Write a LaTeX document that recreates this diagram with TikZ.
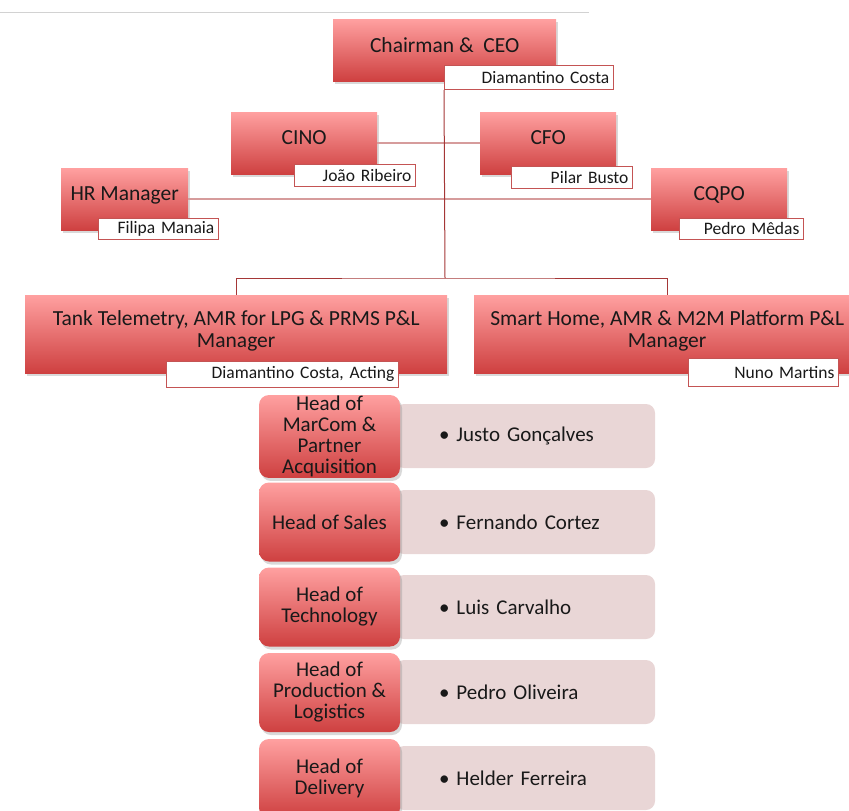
\documentclass[tikz,border=0pt]{standalone}
\usepackage{fontspec}
\setmainfont{Carlito}
\usetikzlibrary{shadows}

\definecolor{boxtop}{RGB}{255,160,160}
\definecolor{boxbot}{RGB}{206,64,64}
\definecolor{namedraw}{RGB}{196,84,84}
\definecolor{linkdark}{RGB}{165,55,55}
\definecolor{linklight}{RGB}{214,156,156}
\definecolor{itemfill}{RGB}{233,214,214}
\definecolor{inktext}{RGB}{25,25,25}

\tikzset{
    rolebox/.style={anchor=north west, top color=boxtop, bottom color=boxbot,
        drop shadow={shadow xshift=2pt, shadow yshift=-3pt, opacity=0.3},
        text=inktext, font=\fontsize{21.5}{22}\selectfont, align=center,
        inner sep=2pt, text depth=11pt},
    namebox/.style={anchor=north west, draw=namedraw, line width=0.8pt,
        fill=white, text=inktext, font=\fontsize{17.5}{19}\selectfont,
        align=right, inner xsep=4pt, inner ysep=0pt},
    headbox/.style={top color=boxtop, bottom color=boxbot, rounded corners=10pt,
        drop shadow={shadow xshift=2pt, shadow yshift=-3pt, opacity=0.3},
        text=inktext, font=\fontsize{21}{21}\selectfont, align=center,
        minimum width=141, minimum height=79, inner sep=1pt},
    itembox/.style={fill=itemfill, rounded corners=9pt, text=inktext,
        font=\fontsize{21}{21}\selectfont, align=left,
        minimum width=260, minimum height=64, text width=172, inner xsep=44},
    linkdark/.style={draw=linkdark, line width=1pt},
    linklight/.style={draw=linklight, line width=1.6pt}
}

\begin{document}
\begin{tikzpicture}[x=1pt,y=-1pt]
    \useasboundingbox (0,0) rectangle (849,811);
    \draw[gray!35, line width=0.8pt] (0,12) -- (589,12);

    % Top management
    \node[rolebox, minimum width=223, minimum height=62] (ceo) at (333,19) {Chairman \&\ \ CEO};
    \node[rolebox, minimum width=146, minimum height=62] (cino) at (231,112) {CINO};
    \node[rolebox, minimum width=136, minimum height=62] (cfo) at (480,112) {CFO};
    \node[rolebox, minimum width=127, minimum height=62] (hr) at (61,168) {HR Manager};
    \node[rolebox, minimum width=136, minimum height=62] (cqpo) at (651,168) {CQPO};

    % P&L managers
    \node[rolebox, minimum width=422, minimum height=78] (tank) at (25,295)
        {Tank Telemetry, AMR for LPG \& PRMS P\&L\\Manager};
    \node[rolebox, minimum width=386, minimum height=78] (smart) at (474,295)
        {Smart Home, AMR \& M2M Platform P\&L\\Manager};

    % Names
    \node[namebox, text width=161, minimum height=24] (ceoname) at (444,65) {Diamantino Costa};
    \node[namebox, text width=113, minimum height=22] (cinoname) at (294,164) {João Ribeiro};
    \node[namebox, text width=113, minimum height=22] (cfoname) at (511,166) {Pilar Busto};
    \node[namebox, text width=112, minimum height=21] (hrname) at (98,218) {Filipa Manaia};
    \node[namebox, text width=116, minimum height=21] (cqponame) at (679,218) {Pedro Mêdas};
    \node[namebox, text width=224, minimum height=26] (tankname) at (166,361) {Diamantino Costa, Acting};
    \node[namebox, text width=142, minimum height=28] (smartname) at (688,358) {Nuno Martins};

    % Connectors
    \coordinate (bus) at (445,278);
    \draw[linklight] (cino.east) -- (cfo.west);
    \draw[linklight] (hr.east) -- (cqpo.west);
    \draw[linkdark] (ceoname.south west) -- (bus);
    \draw[linkdark] (tank.north) |- (bus) -| (smart.north);

    % Heads under Tank Telemetry
    \node[itembox] (item1) at (525,436) {• Justo Gonçalves};
    \node[itembox] (item2) at (525,522) {• Fernando Cortez};
    \node[itembox] (item3) at (525,607) {• Luis Carvalho};
    \node[itembox] (item4) at (525,692) {• Pedro Oliveira};
    \node[itembox] (item5) at (525,778) {• Helder Ferreira};

    \node[headbox] (head1) at (329.5,436.5) {Head of\\MarCom \&\\Partner\\Acquisition};
    \node[headbox] (head2) at (329.5,522) {Head of Sales};
    \node[headbox] (head3) at (329.5,607) {Head of\\Technology};
    \node[headbox] (head4) at (329.5,692.5) {Head of\\Production \&\\Logistics};
    \node[headbox] (head5) at (329.5,778.5) {Head of\\Delivery};

\end{tikzpicture}
\end{document}
